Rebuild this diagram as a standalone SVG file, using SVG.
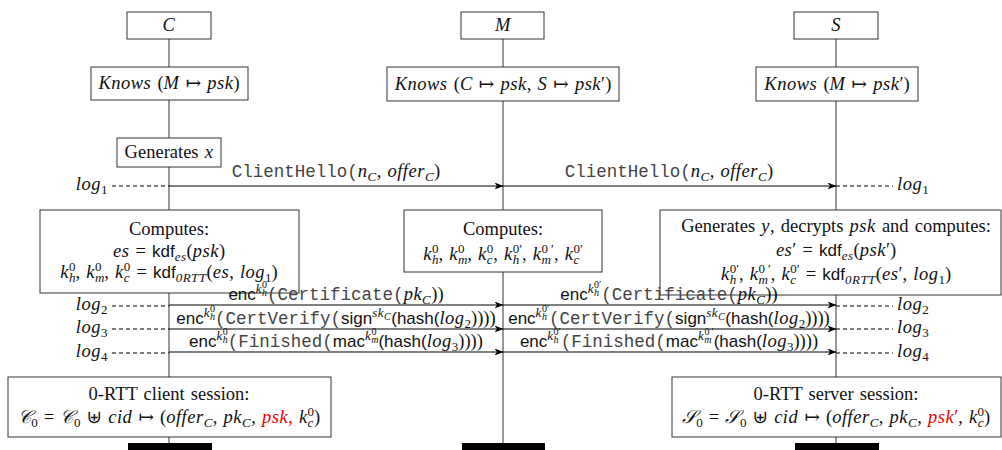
<svg xmlns="http://www.w3.org/2000/svg" width="1002" height="450" viewBox="0 0 1002 450">
<style>
.bx{fill:#fff;stroke:#333;stroke-width:1}
.ll{stroke:#333;stroke-width:1;fill:none}
.msg{stroke:#000;stroke-width:1;fill:none;marker-end:url(#ah)}
.dash{stroke:#000;stroke-width:1;stroke-dasharray:4 3}
.bar{fill:#000}
.t{font-family:"Liberation Serif","DejaVu Serif",serif;font-size:18.5px;fill:#111;word-spacing:1.5px}
.c{text-anchor:middle}
.e{text-anchor:end}
.i{font-style:italic;letter-spacing:0.5px}
.sf{font-family:"Liberation Sans","DejaVu Sans",sans-serif;font-size:17px;font-style:normal;letter-spacing:0}
.tt{font-family:"Liberation Mono","DejaVu Sans Mono",monospace;font-size:17.5px;fill:#444;font-style:normal;letter-spacing:0}
.s1{font-size:13px}
.s2{font-size:10px}
.red{fill:#e00}
</style>
<defs>
<marker id="ah" markerWidth="9" markerHeight="7" refX="8.5" refY="3.5" orient="auto" markerUnits="userSpaceOnUse"><path d="M0,0 L9,3.5 L0,7 L2.5,3.5 z" fill="#000"/></marker>
</defs>

<g id="lifelines">
<line class="ll" x1="169" y1="39" x2="169" y2="443"/>
<line class="ll" x1="503" y1="39" x2="503" y2="443"/>
<line class="ll" x1="836" y1="39" x2="836" y2="443"/>
</g>

<g id="connectors">
<line class="msg" x1="169" y1="186" x2="503" y2="186"/>
<line class="msg" x1="503" y1="186" x2="836" y2="186"/>
<line class="msg" x1="169" y1="305" x2="503" y2="305"/>
<line class="msg" x1="503" y1="305" x2="836" y2="305"/>
<line class="msg" x1="169" y1="329" x2="503" y2="329"/>
<line class="msg" x1="503" y1="329" x2="836" y2="329"/>
<line class="msg" x1="169" y1="352" x2="503" y2="352"/>
<line class="msg" x1="503" y1="352" x2="836" y2="352"/>
<line class="dash" x1="112" y1="186" x2="169" y2="186"/>
<line class="dash" x1="112" y1="306" x2="169" y2="306"/>
<line class="dash" x1="112" y1="329" x2="169" y2="329"/>
<line class="dash" x1="112" y1="353" x2="169" y2="353"/>
<line class="dash" x1="836" y1="186" x2="893" y2="186"/>
<line class="dash" x1="836" y1="306" x2="893" y2="306"/>
<line class="dash" x1="836" y1="329" x2="893" y2="329"/>
<line class="dash" x1="836" y1="353" x2="893" y2="353"/>
</g>

<g id="node-C">
<rect class="bx" x="127" y="12" width="84" height="27"/>
<text class="t c i" x="169" y="31">C</text>
</g>
<g id="node-M">
<rect class="bx" x="461" y="12" width="83" height="27"/>
<text class="t c i" x="503" y="31">M</text>
</g>
<g id="node-S">
<rect class="bx" x="794" y="12" width="84" height="27"/>
<text class="t c i" x="836" y="31">S</text>
</g>

<g id="knows-C">
<rect class="bx" x="91" y="67" width="157" height="33"/>
<text class="t c" x="169" y="89"><tspan class="i">Knows</tspan> (<tspan class="i">M</tspan> ↦ <tspan class="i">psk</tspan>)</text>
</g>
<g id="knows-M">
<rect class="bx" x="387" y="67" width="232" height="34"/>
<text class="t c" x="503" y="90"><tspan class="i">Knows</tspan> (<tspan class="i">C</tspan> ↦ <tspan class="i">psk</tspan>, <tspan class="i">S</tspan> ↦ <tspan class="i">psk</tspan>′)</text>
</g>
<g id="knows-S">
<rect class="bx" x="756" y="67" width="162" height="34"/>
<text class="t c" x="837" y="90"><tspan class="i">Knows</tspan> (<tspan class="i">M</tspan> ↦ <tspan class="i">psk</tspan>′)</text>
</g>

<g id="gen-x">
<rect class="bx" x="117" y="138" width="104" height="29"/>
<text class="t c" x="169" y="158">Generates <tspan class="i">x</tspan></text>
</g>

<g id="computes-C">
<rect class="bx" x="40" y="210" width="259" height="83"/>
<text class="t c" x="169" y="235">Computes:</text>
<text class="t c" x="169" y="257"><tspan class="i">es</tspan> = <tspan class="sf">kdf</tspan><tspan class="i s1" baseline-shift="-4">es</tspan>(<tspan class="i">psk</tspan>)</text>
<text class="t c" x="169" y="278"><tspan class="i">k</tspan><tspan class="i s1" baseline-shift="-4">h</tspan><tspan class="s1" dx="-7" baseline-shift="7">0</tspan>, <tspan class="i">k</tspan><tspan class="i s1" baseline-shift="-4">m</tspan><tspan class="s1" dx="-9.9" baseline-shift="7">0</tspan><tspan dx="2.9">, </tspan><tspan class="i">k</tspan><tspan class="i s1" baseline-shift="-4">c</tspan><tspan class="s1" dx="-6.3" baseline-shift="7">0</tspan> = <tspan class="sf">kdf</tspan><tspan class="i s1" baseline-shift="-4">0RTT</tspan>(<tspan class="i">es</tspan>, <tspan class="i">log</tspan><tspan class="s1" baseline-shift="-4">1</tspan>)</text>
</g>

<g id="computes-M">
<rect class="bx" x="404" y="210" width="198" height="62"/>
<text class="t c" x="503" y="235">Computes:</text>
<text class="t c" x="503" y="260"><tspan class="i">k</tspan><tspan class="i s1" baseline-shift="-4">h</tspan><tspan class="s1" dx="-7" baseline-shift="7">0</tspan>, <tspan class="i">k</tspan><tspan class="i s1" baseline-shift="-4">m</tspan><tspan class="s1" dx="-9.9" baseline-shift="7">0</tspan><tspan dx="2.9">, </tspan><tspan class="i">k</tspan><tspan class="i s1" baseline-shift="-4">c</tspan><tspan class="s1" dx="-6.3" baseline-shift="7">0</tspan>, <tspan class="i">k</tspan><tspan class="i s1" baseline-shift="-4">h</tspan><tspan class="s1" dx="-7" baseline-shift="7">0′</tspan>, <tspan class="i">k</tspan><tspan class="i s1" baseline-shift="-4">m</tspan><tspan class="s1" dx="-9.9" baseline-shift="7">0</tspan><tspan class="s1" dx="3" baseline-shift="7">′</tspan>, <tspan class="i">k</tspan><tspan class="i s1" baseline-shift="-4">c</tspan><tspan class="s1" dx="-6.3" baseline-shift="7">0′</tspan></text>
</g>

<g id="computes-S">
<rect class="bx" x="660" y="210" width="341" height="85"/>
<text class="t c" x="836" y="232">Generates <tspan class="i">y</tspan>, decrypts <tspan class="i">psk</tspan> and computes:</text>
<text class="t c" x="836" y="256"><tspan class="i">es</tspan>′ = <tspan class="sf">kdf</tspan><tspan class="i s1" baseline-shift="-4">es</tspan>(<tspan class="i">psk</tspan>′)</text>
<text class="t c" x="836" y="280"><tspan class="i">k</tspan><tspan class="i s1" baseline-shift="-4">h</tspan><tspan class="s1" dx="-7" baseline-shift="7">0′</tspan>, <tspan class="i">k</tspan><tspan class="i s1" baseline-shift="-4">m</tspan><tspan class="s1" dx="-9.9" baseline-shift="7">0</tspan><tspan class="s1" dx="3" baseline-shift="7">′</tspan>, <tspan class="i">k</tspan><tspan class="i s1" baseline-shift="-4">c</tspan><tspan class="s1" dx="-6.3" baseline-shift="7">0′</tspan> = <tspan class="sf">kdf</tspan><tspan class="i s1" baseline-shift="-4">0RTT</tspan>(<tspan class="i">es</tspan>′, <tspan class="i">log</tspan><tspan class="s1" baseline-shift="-4">1</tspan>)</text>
</g>

<g id="session-C">
<rect class="bx" x="8" y="377" width="323" height="60"/>
<text class="t c" x="169" y="400">0-RTT client session:</text>
<text class="t c" x="169" y="423"><tspan class="i">𝒞</tspan><tspan class="s1" baseline-shift="-4">0</tspan> = <tspan class="i">𝒞</tspan><tspan class="s1" baseline-shift="-4">0</tspan> ⊎ <tspan class="i">cid</tspan> ↦ (<tspan class="i">offer</tspan><tspan class="i s1" baseline-shift="-4">C</tspan>, <tspan class="i">pk</tspan><tspan class="i s1" baseline-shift="-4">C</tspan>, <tspan class="i red">psk</tspan><tspan class="red">,</tspan> <tspan class="i">k</tspan><tspan class="i s1" baseline-shift="-4">c</tspan><tspan class="s1" dx="-6.3" baseline-shift="7">0</tspan>)</text>
</g>

<g id="session-S">
<rect class="bx" x="672" y="377" width="329" height="60"/>
<text class="t c" x="836" y="400">0-RTT server session:</text>
<text class="t c" x="836" y="423"><tspan class="i">𝒮</tspan><tspan class="s1" baseline-shift="-4">0</tspan> = <tspan class="i">𝒮</tspan><tspan class="s1" baseline-shift="-4">0</tspan> ⊎ <tspan class="i">cid</tspan> ↦ (<tspan class="i">offer</tspan><tspan class="i s1" baseline-shift="-4">C</tspan>, <tspan class="i">pk</tspan><tspan class="i s1" baseline-shift="-4">C</tspan>, <tspan class="i red">psk</tspan><tspan class="red">′</tspan>, <tspan class="i">k</tspan><tspan class="i s1" baseline-shift="-4">c</tspan><tspan class="s1" dx="-6.3" baseline-shift="7">0</tspan>)</text>
</g>

<g id="bars">
<rect class="bar" x="128" y="443" width="84" height="7"/>
<rect class="bar" x="462" y="443" width="83" height="7"/>
<rect class="bar" x="795" y="443" width="84" height="7"/>
</g>

<g id="log-labels">
<text class="t e i" x="108" y="190">log<tspan class="s1" baseline-shift="-4" font-style="normal">1</tspan></text>
<text class="t e i" x="108" y="310">log<tspan class="s1" baseline-shift="-4" font-style="normal">2</tspan></text>
<text class="t e i" x="108" y="333">log<tspan class="s1" baseline-shift="-4" font-style="normal">3</tspan></text>
<text class="t e i" x="108" y="357">log<tspan class="s1" baseline-shift="-4" font-style="normal">4</tspan></text>
<text class="t i" x="897" y="190">log<tspan class="s1" baseline-shift="-4" font-style="normal">1</tspan></text>
<text class="t i" x="897" y="310">log<tspan class="s1" baseline-shift="-4" font-style="normal">2</tspan></text>
<text class="t i" x="897" y="333">log<tspan class="s1" baseline-shift="-4" font-style="normal">3</tspan></text>
<text class="t i" x="897" y="357">log<tspan class="s1" baseline-shift="-4" font-style="normal">4</tspan></text>
</g>

<g id="msg-labels">
<text class="t c" x="336" y="177"><tspan class="tt">ClientHello(</tspan><tspan class="i">n</tspan><tspan class="i s1" baseline-shift="-4">C</tspan>, <tspan class="i">offer</tspan><tspan class="i s1" baseline-shift="-4">C</tspan>)</text>
<text class="t c" x="669" y="177"><tspan class="tt">ClientHello(</tspan><tspan class="i">n</tspan><tspan class="i s1" baseline-shift="-4">C</tspan>, <tspan class="i">offer</tspan><tspan class="i s1" baseline-shift="-4">C</tspan>)</text>

<text class="t c" x="336" y="300"><tspan class="sf">enc</tspan><tspan class="i s1" baseline-shift="7">k</tspan><tspan class="i s2" baseline-shift="4">h</tspan><tspan class="s2" dx="-5.5" baseline-shift="12">0</tspan><tspan class="tt">(Certificate(</tspan><tspan class="i">pk</tspan><tspan class="i s1" baseline-shift="-4">C</tspan>))</text>
<text class="t c" x="336" y="324"><tspan class="sf">enc</tspan><tspan class="i s1" baseline-shift="7">k</tspan><tspan class="i s2" baseline-shift="4">h</tspan><tspan class="s2" dx="-5.5" baseline-shift="12">0</tspan><tspan class="tt">(CertVerify(</tspan><tspan class="sf">sign</tspan><tspan class="i s1" baseline-shift="7">sk</tspan><tspan class="i s2" baseline-shift="4">C</tspan><tspan class="sf">(hash(</tspan><tspan class="i">log</tspan><tspan class="s1" baseline-shift="-4">2</tspan>))))</text>
<text class="t c" x="336" y="347"><tspan class="sf">enc</tspan><tspan class="i s1" baseline-shift="7">k</tspan><tspan class="i s2" baseline-shift="4">h</tspan><tspan class="s2" dx="-5.5" baseline-shift="12">0</tspan><tspan class="tt">(Finished(</tspan><tspan class="sf">mac</tspan><tspan class="i s1" baseline-shift="7">k</tspan><tspan class="i s2" baseline-shift="4">m</tspan><tspan class="s2" dx="-7.5" baseline-shift="12">0</tspan><tspan class="sf" dx="2">(hash(</tspan><tspan class="i">log</tspan><tspan class="s1" baseline-shift="-4">3</tspan>))))</text>

<text class="t c" x="669" y="300"><tspan class="sf">enc</tspan><tspan class="i s1" baseline-shift="7">k</tspan><tspan class="i s2" baseline-shift="4">h</tspan><tspan class="s2" dx="-5.5" baseline-shift="12">0′</tspan><tspan class="tt">(Certificate(</tspan><tspan class="i">pk</tspan><tspan class="i s1" baseline-shift="-4">C</tspan>))</text>
<text class="t c" x="669" y="324"><tspan class="sf">enc</tspan><tspan class="i s1" baseline-shift="7">k</tspan><tspan class="i s2" baseline-shift="4">h</tspan><tspan class="s2" dx="-5.5" baseline-shift="12">0′</tspan><tspan class="tt">(CertVerify(</tspan><tspan class="sf">sign</tspan><tspan class="i s1" baseline-shift="7">sk</tspan><tspan class="i s2" baseline-shift="4">C</tspan><tspan class="sf">(hash(</tspan><tspan class="i">log</tspan><tspan class="s1" baseline-shift="-4">2</tspan>))))</text>
<text class="t c" x="669" y="347"><tspan class="sf">enc</tspan><tspan class="i s1" baseline-shift="7">k</tspan><tspan class="i s2" baseline-shift="4">h</tspan><tspan class="s2" dx="-5.5" baseline-shift="12">0′</tspan><tspan class="tt">(Finished(</tspan><tspan class="sf">mac</tspan><tspan class="i s1" baseline-shift="7">k</tspan><tspan class="i s2" baseline-shift="4">m</tspan><tspan class="s2" dx="-7.5" baseline-shift="12">0</tspan><tspan class="s2" dx="2" baseline-shift="12">′</tspan><tspan class="sf">(hash(</tspan><tspan class="i">log</tspan><tspan class="s1" baseline-shift="-4">3</tspan>))))</text>
</g>
</svg>
